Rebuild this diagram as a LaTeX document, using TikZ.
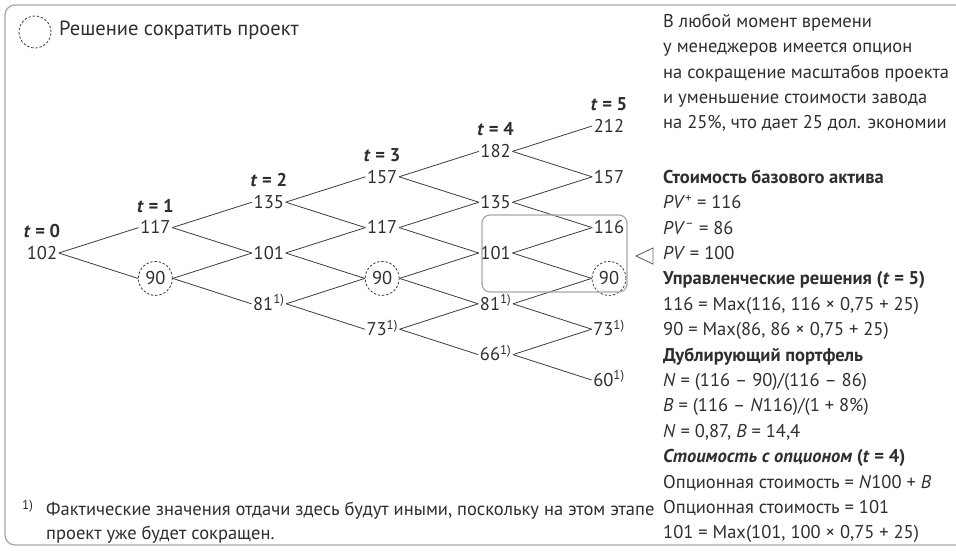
\documentclass[tikz,border=0pt]{standalone}
\usepackage{fontspec}
\setmainfont{PT Sans}
\definecolor{txt}{HTML}{2E2E2E}
\definecolor{ln}{HTML}{3C3C3C}
\definecolor{frm}{HTML}{A8A8A8}
\begin{document}
\begin{tikzpicture}[x=1pt,y=-1pt,
  font=\fontsize{18.5}{22}\selectfont,
  num/.style={inner sep=1.5pt, text height=12.5pt, text depth=0pt, text=txt},
  cnum/.style={num, circle, draw=ln, line width=0.8pt, dash pattern=on 2.4pt off 1.8pt, minimum size=34pt, inner sep=0pt},
  edge/.style={draw=ln, line width=0.8pt},
  tlab/.style={text=txt, inner sep=0pt, font=\fontsize{18.5}{22}\selectfont\bfseries},
  rl/.style={anchor=west, inner sep=0pt, text=txt, text height=13pt, text depth=4.5pt},
  hl/.style={rl, font=\fontsize{18.5}{22}\selectfont\bfseries}]
\useasboundingbox (0,0) rectangle (956,550);
% frame
\draw[frm, line width=1.3pt, rounded corners=10pt] (5,5) rectangle (975,545);
% legend
\node[circle, draw=ln, line width=0.8pt, dash pattern=on 2.4pt off 1.8pt, minimum size=32pt, inner sep=0pt] (leg) at (35,32) {};
\node[rl, font=\fontsize{20.5}{24}\selectfont] (legt) at (59,31) {Решение сократить проект};
% tree nodes
\node[num] (n00) at (42,253) {102};
\node[num] (n11) at (155.4,227.6) {117};
\node[cnum] (n10) at (155.4,278.4) {90};
\node[num] (n22) at (268.8,202.2) {135};
\node[num] (n21) at (268.8,253) {101};
\node[num] (n20) at (268.8,303.8) {81\textsuperscript{1)}};
\node[num] (n33) at (382.2,176.8) {157};
\node[num] (n32) at (382.2,227.6) {117};
\node[cnum] (n31) at (382.2,278.4) {90};
\node[num] (n30) at (382.2,329.2) {73\textsuperscript{1)}};
\node[num] (n44) at (495.6,151.4) {182};
\node[num] (n43) at (495.6,202.2) {135};
\node[num] (n42) at (495.6,253) {101};
\node[num] (n41) at (495.6,303.8) {81\textsuperscript{1)}};
\node[num] (n40) at (495.6,354.6) {66\textsuperscript{1)}};
\node[num] (n55) at (609,126) {212};
\node[num] (n54) at (609,176.8) {157};
\node[num] (n53) at (609,227.6) {116};
\node[cnum] (n52) at (609,278.4) {90};
\node[num] (n51) at (609,329.2) {73\textsuperscript{1)}};
\node[num] (n50) at (609,380) {60\textsuperscript{1)}};
% time labels
\node[tlab] (t0) at (42,231) {\textit{t} = 0};
\node[tlab] (t1) at (155.4,205.6) {\textit{t} = 1};
\node[tlab] (t2) at (268.8,180.2) {\textit{t} = 2};
\node[tlab] (t3) at (382.2,154.8) {\textit{t} = 3};
\node[tlab] (t4) at (495.6,129.4) {\textit{t} = 4};
\node[tlab] (t5) at (609,104) {\textit{t} = 5};
% edges
\foreach \i in {0,...,4}{
  \foreach \j in {0,...,\i}{
    \pgfmathtruncatemacro\ni{\i+1}
    \pgfmathtruncatemacro\nj{\j+1}
    \draw[edge] (n\i\j.east) -- (n\ni\nj.west);
    \draw[edge] (n\i\j.east) -- (n\ni\j.west);
  }
}
% highlight box and pointer
\draw[frm, line width=1.2pt, rounded corners=8pt] (482,215) rectangle (627,292);
\draw[ln!80, line width=0.9pt, line join=miter] (636,256) -- (653,248) -- (653,264) -- cycle;
% right text
\node[rl] (r1) at (663,23) {В любой момент времени};
\node[rl] (r2) at (663,48.4) {у менеджеров имеется опцион};
\node[rl] (r3) at (663,73.8) {на сокращение масштабов проекта};
\node[rl] (r4) at (663,99.2) {и уменьшение стоимости завода};
\node[rl] (r5) at (663,124.6) {на 25\%, что дает 25 дол. экономии};
\node[hl] (r6) at (663,179) {Стоимость базового актива};
\node[rl] (r7) at (663,204.4) {\textit{PV}\textsuperscript{+} = 116};
\node[rl] (r8) at (663,229.8) {\textit{PV}\textsuperscript{–} = 86};
\node[rl] (r9) at (663,255.2) {\textit{PV} = 100};
\node[hl] (r10) at (663,280.6) {Управленческие решения (\textit{t} = 5)};
\node[rl] (r11) at (663,306) {116 = Max(116, 116 × 0,75 + 25)};
\node[rl] (r12) at (663,331.4) {90 = Max(86, 86 × 0,75 + 25)};
\node[hl] (r13) at (663,356.8) {Дублирующий портфель};
\node[rl] (r14) at (663,382.2) {\textit{N} = (116 – 90)/(116 – 86)};
\node[rl] (r15) at (663,407.6) {\textit{B} = (116 – \textit{N}116)/(1 + 8\%)};
\node[rl] (r16) at (663,433) {\textit{N} = 0,87, \textit{B} = 14,4};
\node[hl] (r17) at (663,458.4) {\textit{Стоимость с опционом} (\textit{t} = 4)};
\node[rl] (r18) at (663,483.8) {Опционная стоимость = \textit{N}100 + \textit{B}};
\node[rl] (r19) at (663,509.2) {Опционная стоимость = 101};
\node[rl] (r20) at (663,534.6) {101 = Max(101, 100 × 0,75 + 25)};
% footnote
\node[anchor=base west, inner sep=0pt, text=txt] (fm) at (22,515.5) {\textsuperscript{1)}};
\node[rl] (f1) at (46,511) {Фактические значения отдачи здесь будут иными, поскольку на этом этапе};
\node[rl] (f2) at (46,535) {проект уже будет сокращен.};
\end{tikzpicture}
\end{document}
